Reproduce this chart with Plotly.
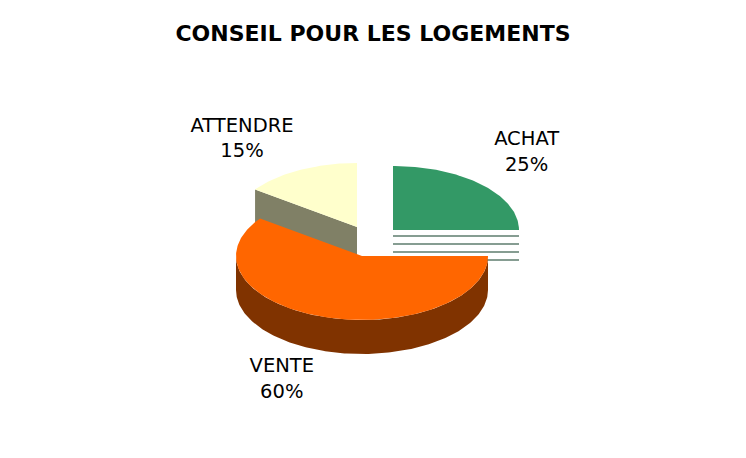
import math
import plotly.graph_objects as go

# data
labels = ["ACHAT", "VENTE", "ATTENDRE"]
values = [25, 60, 15]
top_colors = ["#339966", "#FF6600", "#FFFFCC"]
side_colors = ["#0D3B26", "#803300", "#808066"]

# layout of the fake 3d pie, in pixels of the page
W, H = 746, 458
PAD = 8  # page body margin
CX, CY = 362, 256
RX, RY = 126, 64
DEPTH = 34
SHIFT = {"ACHAT": (31, -26), "VENTE": (0, 0), "ATTENDRE": (-5, -29)}   # exploded slices
LABEL_K = {"ACHAT": (1.5, 1.7), "VENTE": (2.06, 2.04), "ATTENDRE": (2.01, 1.53)}
FONT = "DejaVu Sans"


def rim(cx, cy, a, dz=0.0):
    r = math.radians(a)
    return cx + RX * math.sin(r), cy - RY * math.cos(r) + dz


def arc(cx, cy, a0, a1, dz=0.0):
    n = max(2, int(abs(a1 - a0)) + 1)
    return [rim(cx, cy, a0 + (a1 - a0) * i / (n - 1), dz) for i in range(n)]


def poly(pts, color, pattern=None):
    xs = [p[0] for p in pts] + [pts[0][0]]
    ys = [p[1] for p in pts] + [pts[0][1]]
    kw = dict(x=xs, y=ys, mode="lines", fill="toself", line=dict(width=0, color=color),
              hoverinfo="skip")
    if pattern:
        kw["fillcolor"] = "white"
        kw["fillpattern"] = pattern
    else:
        kw["fillcolor"] = color
    return go.Scatter(**kw)


total = sum(values)
slices = []
start = 0.0
for lab, v, tc, sc in zip(labels, values, top_colors, side_colors):
    end = start + 360.0 * v / total
    dx, dy = SHIFT[lab]
    slices.append(dict(label=lab, value=v, a0=start, a1=end, cx=CX + dx, cy=CY + dy,
                       top=tc, side=sc))
    start = end

fig = go.Figure()

# back to front: ATTENDRE, ACHAT, VENTE
order = ["ATTENDRE", "ACHAT", "VENTE"]
for lab in order:
    s = next(d for d in slices if d["label"] == lab)
    cx, cy, a0, a1 = s["cx"], s["cy"], s["a0"], s["a1"]
    # radial cut faces that look toward the viewer
    for a, n in ((a0, (a0 - 90) % 360), (a1, (a1 + 90) % 360)):
        if 90 < n < 270:
            p = rim(cx, cy, a)
            face = [(cx, cy), p, (p[0], p[1] + DEPTH), (cx, cy + DEPTH)]
            pat = None
            if lab == "ACHAT":
                pat = dict(shape="-", size=8, solidity=0.25, fgcolor=s["side"], bgcolor="white")
            fig.add_trace(poly(face, s["side"], pat))
    # outer wall, front half only
    lo, hi = max(a0, 90), min(a1, 270)
    if hi > lo:
        top = arc(cx, cy, lo, hi)
        bot = arc(cx, cy, hi, lo, DEPTH)
        fig.add_trace(poly(top + bot, s["side"]))
    # top face
    fig.add_trace(poly([(cx, cy)] + arc(cx, cy, a0, a1), s["top"]))

# labels
lx, ly, lt = [], [], []
for s in slices:
    mid = math.radians((s["a0"] + s["a1"]) / 2)
    kx, ky = LABEL_K[s["label"]]
    lx.append(s["cx"] + kx * RX * math.sin(mid))
    ly.append(s["cy"] - ky * RY * math.cos(mid))
    lt.append(f"{s['label']}<br>{round(100 * s['value'] / total)}%")
fig.add_trace(go.Scatter(x=lx, y=ly, text=lt, mode="text", hoverinfo="skip",
                         textfont=dict(family=FONT, size=19.5, color="black")))

fig.update_layout(
    width=W, height=H, margin=dict(l=0, r=0, t=0, b=0),
    showlegend=False, plot_bgcolor="white", paper_bgcolor="white",
    title=dict(text="<b>CONSEIL POUR LES LOGEMENTS</b>", x=(W / 2 - PAD) / W, xanchor="center",
               y=1 - (33 - PAD) / H, yanchor="middle", yref="container",
               font=dict(family=FONT, size=22, color="black")),
    xaxis=dict(range=[PAD, W + PAD], visible=False, fixedrange=True),
    yaxis=dict(range=[H + PAD, PAD], visible=False, fixedrange=True),
)
fig.write_html("out.html")
